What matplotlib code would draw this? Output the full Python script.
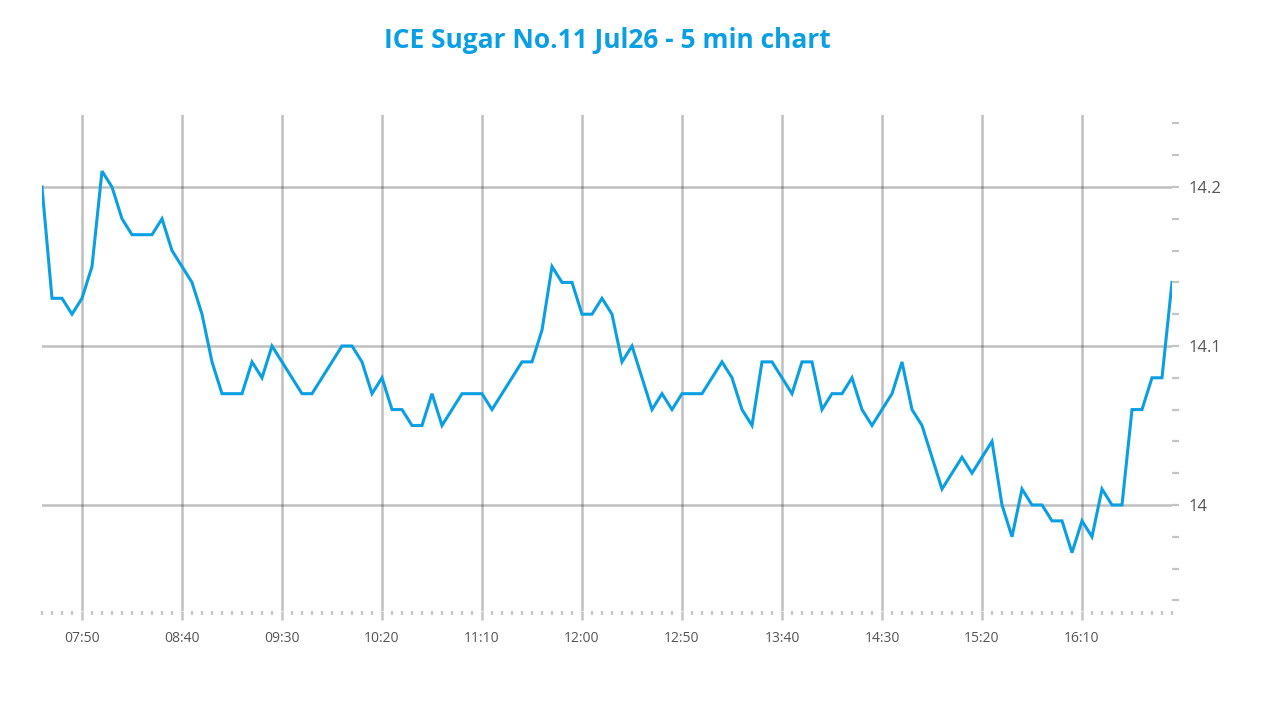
import matplotlib
matplotlib.use('Agg')
import matplotlib.pyplot as plt
from matplotlib.ticker import MultipleLocator, FixedLocator, FuncFormatter

plt.rcParams['font.family'] = ['Open Sans', 'DejaVu Sans']

# 5 min bars, 07:30 .. 16:55 (minutes after midnight)
start_minute = 450
step_minutes = 5
prices = [
    14.20, 14.13, 14.13, 14.12, 14.13, 14.15, 14.21, 14.20, 14.18, 14.17,
    14.17, 14.17, 14.18, 14.16, 14.15, 14.14, 14.12, 14.09, 14.07, 14.07,
    14.07, 14.09, 14.08, 14.10, 14.09, 14.08, 14.07, 14.07, 14.08, 14.09,
    14.10, 14.10, 14.09, 14.07, 14.08, 14.06, 14.06, 14.05, 14.05, 14.07,
    14.05, 14.06, 14.07, 14.07, 14.07, 14.06, 14.07, 14.08, 14.09, 14.09,
    14.11, 14.15, 14.14, 14.14, 14.12, 14.12, 14.13, 14.12, 14.09, 14.10,
    14.08, 14.06, 14.07, 14.06, 14.07, 14.07, 14.07, 14.08, 14.09, 14.08,
    14.06, 14.05, 14.09, 14.09, 14.08, 14.07, 14.09, 14.09, 14.06, 14.07,
    14.07, 14.08, 14.06, 14.05, 14.06, 14.07, 14.09, 14.06, 14.05, 14.03,
    14.01, 14.02, 14.03, 14.02, 14.03, 14.04, 14.00, 13.98, 14.01, 14.00,
    14.00, 13.99, 13.99, 13.97, 13.99, 13.98, 14.01, 14.00, 14.00, 14.06,
    14.06, 14.08, 14.08, 14.14,
]
minutes = [start_minute + step_minutes * i for i in range(len(prices))]
x_labels = ['07:50', '08:40', '09:30', '10:20', '11:10',
            '12:00', '12:50', '13:40', '14:30', '15:20', '16:10']
y_major = [14.0, 14.1, 14.2]

title_color = '#0a9fe3'
line_color = '#0a9fe3'


def to_minutes(s):
    h, m = s.split(':')
    return int(h) * 60 + int(m)


def fmt_time(v, pos):
    v = int(round(v))
    return '%02d:%02d' % (v // 60, v % 60)


def main():
    fig = plt.figure(figsize=(12.8, 7.2), dpi=100)
    ax = fig.add_axes([42 / 1280, 1 - 611 / 720, 1130 / 1280, (611 - 115) / 720])

    ax.plot(minutes, prices, color=line_color, linewidth=2.2, solid_joinstyle='miter')

    ax.set_xlim(minutes[0], minutes[-1])
    ax.set_ylim(13.9333, 14.2453)

    ax.xaxis.set_major_locator(FixedLocator([to_minutes(s) for s in x_labels]))
    ax.xaxis.set_major_formatter(FuncFormatter(fmt_time))
    ax.xaxis.set_minor_locator(MultipleLocator(step_minutes))
    ax.yaxis.set_major_locator(FixedLocator(y_major))
    ax.yaxis.set_major_formatter(FuncFormatter(lambda v, p: ('%.1f' % v).rstrip('0').rstrip('.')))
    ax.yaxis.set_minor_locator(MultipleLocator(0.02))
    ax.yaxis.tick_right()

    for s in ax.spines.values():
        s.set_visible(False)

    ax.grid(True, which='major', color='black', alpha=0.25, linewidth=1.8)
    ax.set_axisbelow(True)

    ax.tick_params(axis='x', which='major', direction='out', length=6.5, width=1.8,
                   color='#c4c4c4', pad=8, labelsize=10, labelcolor='#555555')
    ax.tick_params(axis='x', which='minor', direction='out', length=3, width=1.6,
                   color='#c4c4c4')
    ax.tick_params(axis='y', which='both', direction='out', length=5, width=1.6,
                   color='#c4c4c4', pad=7, labelsize=12, labelcolor='#555555')

    fig.text(607 / 1280, 1 - 41 / 720, 'ICE Sugar No.11 Jul26 - 5 min chart',
             ha='center', va='center', fontsize=19, fontweight='bold', color=title_color)

    fig.savefig('out.png', dpi=100)
    plt.close(fig)


if __name__ == '__main__':
    main()
